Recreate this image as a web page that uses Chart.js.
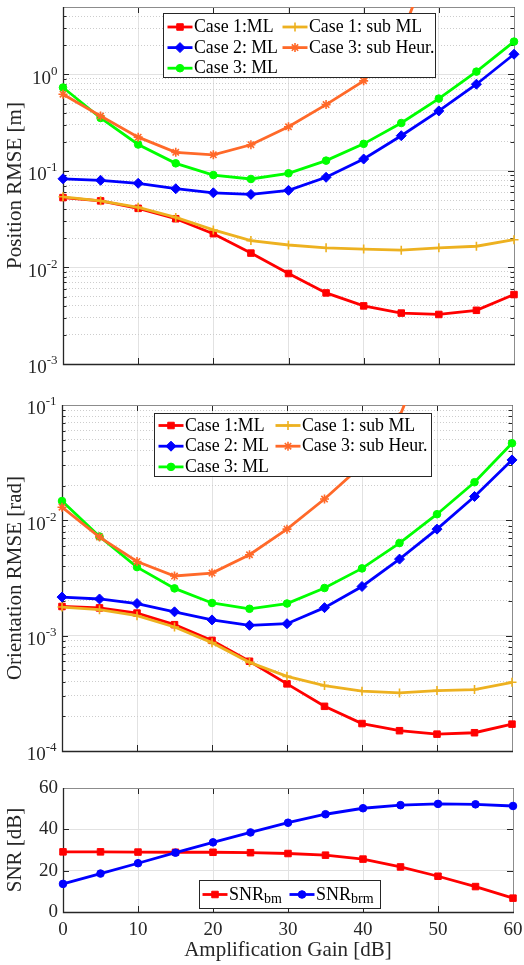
<!DOCTYPE html>
<html>
<head>
<meta charset="utf-8">
<script src="https://cdn.jsdelivr.net/npm/chart.js@4.4.1/dist/chart.umd.min.js"></script>
<style>
  html, body { margin: 0; padding: 0; background: #fff; }
  #page { position: relative; width: 524px; height: 965px; overflow: hidden; }
  .panel { position: absolute; left: 0; width: 524px; }
</style>
</head>
<body>
<div id="page">
  <div class="panel" style="top:0;height:390px"><canvas id="posChart" width="524" height="390"></canvas></div>
  <div class="panel" style="top:390px;height:380px"><canvas id="oriChart" width="524" height="380"></canvas></div>
  <div class="panel" style="top:765px;height:200px"><canvas id="snrChart" width="524" height="200"></canvas></div>
</div>
<script>
// amplification gain sweep [dB]
const gainDb = [0, 5, 10, 15, 20, 25, 30, 35, 40, 45, 50, 55, 60];

// position RMSE [m]
const posCase1ML   = [0.053, 0.049, 0.041, 0.032, 0.0224, 0.0141, 0.00866, 0.00545, 0.0040, 0.00337, 0.00326, 0.0036, 0.00524];
const posCase2ML   = [0.083, 0.080, 0.0745, 0.0655, 0.0594, 0.0572, 0.063, 0.086, 0.133, 0.232, 0.419, 0.792, 1.62];
const posCase3ML   = [0.732, 0.354, 0.188, 0.120, 0.0908, 0.0826, 0.0946, 0.128, 0.191, 0.314, 0.562, 1.07, 2.19];
const posCase1Sub  = [0.054, 0.049, 0.042, 0.033, 0.0245, 0.019, 0.0171, 0.016, 0.0155, 0.0151, 0.016, 0.0166, 0.0194];
const posCase3Heur = [0.624, 0.371, 0.224, 0.156, 0.147, 0.187, 0.287, 0.487, 0.859, 2.5, 25, 100, 400];

// orientation RMSE [rad]
const oriCase1ML   = [1.79e-3, 1.74e-3, 1.57e-3, 1.245e-3, 9.1e-4, 6.0e-4, 3.82e-4, 2.44e-4, 1.73e-4, 1.50e-4, 1.40e-4, 1.44e-4, 1.71e-4];
const oriCase2ML   = [2.16e-3, 2.08e-3, 1.90e-3, 1.61e-3, 1.37e-3, 1.23e-3, 1.27e-3, 1.75e-3, 2.67e-3, 4.61e-3, 8.39e-3, 1.61e-2, 3.34e-2];
const oriCase3ML   = [1.47e-2, 7.24e-3, 3.93e-3, 2.57e-3, 1.92e-3, 1.71e-3, 1.90e-3, 2.59e-3, 3.83e-3, 6.35e-3, 1.13e-2, 2.14e-2, 4.66e-2];
const oriCase1Sub  = [1.77e-3, 1.68e-3, 1.49e-3, 1.19e-3, 8.7e-4, 5.87e-4, 4.44e-4, 3.69e-4, 3.30e-4, 3.19e-4, 3.34e-4, 3.41e-4, 3.94e-4];
const oriCase3Heur = [1.30e-2, 7.16e-3, 4.40e-3, 3.29e-3, 3.49e-3, 5.03e-3, 8.39e-3, 1.53e-2, 3.0e-2, 7.9e-2, 0.5, 3, 15];

// SNR [dB]
const snrBm  = [29.1, 29.1, 29.0, 28.9, 28.9, 28.7, 28.3, 27.5, 25.6, 21.8, 17.3, 12.3, 6.7];
const snrBrm = [13.6, 18.6, 23.6, 28.7, 33.7, 38.5, 43.2, 47.3, 50.2, 51.7, 52.3, 52.1, 51.3];

const gainTicks = [0, 10, 20, 30, 40, 50, 60];
const snrTicks = [0, 20, 40, 60];

const FONT = '"Liberation Serif", "DejaVu Serif", "Times New Roman", serif';
const INK = '#262626';
Chart.defaults.font.family = FONT;
Chart.defaults.color = INK;

function isDecade(v) {
  if (!(v > 0)) return false;
  const l = Math.log10(v);
  return Math.abs(l - Math.round(l)) < 1e-9;
}

// 1..9 x 10^n ticks inside [min, max]
function logTicks(min, max) {
  const out = [];
  for (let e = Math.floor(Math.log10(min)); e <= Math.ceil(Math.log10(max)); e++) {
    for (let m = 1; m <= 9; m++) {
      const v = parseFloat((m * Math.pow(10, e)).toPrecision(6));
      if (v >= min * 0.999999 && v <= max * 1.000001) out.push({ value: v });
    }
  }
  return out;
}

function series(label, data, color, style, radius, order) {
  const line = style === 'cross' || style === 'star';
  return {
    label, data: data.map((v, i) => ({ x: gainDb[i], y: v })),
    borderColor: color, backgroundColor: color,
    borderWidth: 2.8,
    pointStyle: style, pointRadius: radius, pointHoverRadius: radius,
    pointBackgroundColor: color, pointBorderColor: color,
    pointBorderWidth: line ? 1.6 : 1,
    tension: 0, order
  };
}

function rmseSets(c1, c2, c3, c1s, c3h) {
  return [
    series('Case 1:ML', c1, '#ff0000', 'rect', 4.6, 0),
    series('Case 2: ML', c2, '#0000ff', 'rectRot', 5, -1),
    series('Case 3: ML', c3, '#00ff00', 'circle', 3.8, -2),
    series('Case 1: sub ML', c1s, '#edb120', 'cross', 4.5, -3),
    series('Case 3: sub Heur.', c3h, '#ff6929', 'star', 4.5, -4)
  ];
}

function gainAxis(showLabels, height) {
  return {
    type: 'linear', min: 0, max: 60,
    afterBuildTicks: s => { s.ticks = gainTicks.map(v => ({ value: v })); },
    ticks: { display: showLabels, autoSkip: false, maxRotation: 0, padding: 7, color: INK, font: { size: 19 } },
    grid: { color: '#e2e2e2', lineWidth: 1, drawTicks: false },
    border: { display: false },
    title: showLabels
      ? { display: true, text: 'Amplification Gain [dB]', color: INK, font: { size: 21 }, padding: { top: 0, bottom: 2 } }
      : { display: false },
    afterFit: s => { s.height = height; s.paddingLeft = 0; s.paddingRight = 0; }
  };
}

// decade labels (10 with raised exponent) are drawn by axesFrame
function rmseAxis(min, max, title, width) {
  return {
    type: 'logarithmic', min, max,
    afterBuildTicks: s => { s.ticks = logTicks(min, max); },
    ticks: { display: false, autoSkip: false },
    grid: {
      drawTicks: false, lineWidth: 1,
      color: c => (c.tick && isDecade(c.tick.value)) ? '#e2e2e2' : '#cdcdcd'
    },
    border: { display: false, dash: c => (c.tick && !isDecade(c.tick.value)) ? [1, 2] : [] },
    title: { display: true, text: title, color: INK, font: { size: 21 }, padding: { top: 3, bottom: 0 } },
    afterFit: s => { s.width = width; s.paddingTop = 0; s.paddingBottom = 0; }
  };
}

// box, inward tick marks and power-of-ten labels, MATLAB style
const axesFrame = {
  id: 'axesFrame',
  beforeDatasetsDraw(chart) {
    const { ctx, chartArea: a, scales: { x, y } } = chart;
    ctx.save();
    ctx.lineWidth = 1;
    ctx.strokeStyle = INK;
    ctx.beginPath();
    x.ticks.forEach(t => {
      const px = Math.round(x.getPixelForValue(t.value)) + 0.5;
      ctx.moveTo(px, a.bottom); ctx.lineTo(px, a.bottom - 6);
      ctx.moveTo(px, a.top); ctx.lineTo(px, a.top + 6);
    });
    y.ticks.forEach(t => {
      const len = (y.type === 'logarithmic' && !isDecade(t.value)) ? 3.5 : 6;
      const py = Math.round(y.getPixelForValue(t.value)) + 0.5;
      ctx.moveTo(a.left, py); ctx.lineTo(a.left + len, py);
      ctx.moveTo(a.right, py); ctx.lineTo(a.right - len, py);
    });
    ctx.stroke();
    ctx.strokeStyle = '#8c8c8c';
    ctx.beginPath();
    ctx.moveTo(a.left, a.top + 0.5); ctx.lineTo(a.right + 0.5, a.top + 0.5); ctx.lineTo(a.right + 0.5, a.bottom);
    ctx.stroke();
    ctx.strokeStyle = INK;
    ctx.lineWidth = 1.3;
    ctx.beginPath();
    ctx.moveTo(a.left + 0.5, a.top); ctx.lineTo(a.left + 0.5, a.bottom + 0.5); ctx.lineTo(a.right + 1, a.bottom + 0.5);
    ctx.stroke();
    ctx.restore();
  },
  afterDraw(chart) {
    const { ctx, chartArea: a, scales: { y } } = chart;
    if (y.type !== 'logarithmic') return;
    ctx.save();
    ctx.fillStyle = INK;
    ctx.textBaseline = 'middle';
    ctx.textAlign = 'right';
    y.ticks.filter(t => isDecade(t.value)).forEach(t => {
      const py = y.getPixelForValue(t.value);
      const exp = String(Math.round(Math.log10(t.value)));
      const right = a.left - 5.5;
      ctx.font = '13px ' + FONT;
      const ew = ctx.measureText(exp).width;
      ctx.fillText(exp, right, py - 3);
      ctx.font = '19px ' + FONT;
      ctx.fillText('10', right - ew, py + 4.5);
    });
    ctx.restore();
  }
};

// legend box drawn inside the plot area
const inlineLegend = {
  id: 'inlineLegend',
  afterDraw(chart, args, o) {
    if (!o.box) return;
    const { ctx, chartArea: a } = chart;
    const bx = Math.round(a.left + o.box.x) + 0.5, by = Math.round(a.top + o.box.y) + 0.5;
    ctx.save();
    ctx.fillStyle = '#fff';
    ctx.fillRect(bx, by, o.box.w, o.box.h);
    ctx.strokeStyle = INK;
    ctx.lineWidth = 1;
    ctx.strokeRect(bx, by, o.box.w, o.box.h);
    chart.data.datasets.forEach((ds, i) => {
      const col = Math.floor(i / o.rows), row = i % o.rows;
      const lx = bx + o.colX[col], ly = by + o.rowY + row * o.rowH;
      ctx.strokeStyle = ds.borderColor;
      ctx.lineWidth = ds.borderWidth;
      ctx.beginPath(); ctx.moveTo(lx, ly); ctx.lineTo(lx + o.sample, ly); ctx.stroke();
      ctx.fillStyle = ds.pointBackgroundColor;
      ctx.strokeStyle = ds.pointBorderColor;
      ctx.lineWidth = ds.pointBorderWidth;
      Chart.helpers.drawPoint(ctx, { pointStyle: ds.pointStyle, radius: ds.pointRadius, rotation: 0, borderWidth: ds.pointBorderWidth }, lx + o.sample / 2, ly);
      const [main, sub] = ds.label.split('_');
      let tx = lx + o.sample + 1.5;
      ctx.fillStyle = '#000';
      ctx.textBaseline = 'middle';
      ctx.textAlign = 'left';
      ctx.font = o.fontSize + 'px ' + FONT;
      ctx.fillText(main, tx, ly + 0.5);
      if (sub) {
        tx += ctx.measureText(main).width;
        ctx.font = Math.round(o.fontSize * 0.75) + 'px ' + FONT;
        ctx.fillText(sub, tx, ly + 5);
      }
    });
    ctx.restore();
  }
};

function baseOptions(padding, scales, legend, clip) {
  return {
    responsive: false, animation: false, devicePixelRatio: 1,
    layout: { padding },
    scales,
    plugins: { legend: { display: false }, tooltip: { enabled: false }, inlineLegend: legend },
    datasets: { line: { clip } },
    events: []
  };
}

new Chart(document.getElementById('posChart'), {
  type: 'line',
  data: { datasets: rmseSets(posCase1ML, posCase2ML, posCase3ML, posCase1Sub, posCase3Heur) },
  options: baseOptions({ left: 0, right: 10, top: 7, bottom: 0 }, {
    x: gainAxis(false, 26),
    y: rmseAxis(1e-3, 5, 'Position RMSE [m]', 63)
  }, { box: { x: 100, y: 6, w: 272, h: 64 }, rows: 3, colX: [4, 119], rowY: 13.5, rowH: 20.6, sample: 25, fontSize: 17.8 },
  { left: 8, right: 8, top: 0, bottom: 0 }),
  plugins: [axesFrame, inlineLegend]
});

new Chart(document.getElementById('oriChart'), {
  type: 'line',
  data: { datasets: rmseSets(oriCase1ML, oriCase2ML, oriCase3ML, oriCase1Sub, oriCase3Heur) },
  options: baseOptions({ left: 0, right: 12, top: 15, bottom: 0 }, {
    x: gainAxis(false, 19),
    y: rmseAxis(1e-4, 1e-1, 'Orientation RMSE [rad]', 62)
  }, { box: { x: 92, y: 8, w: 277, h: 63 }, rows: 3, colX: [4, 121], rowY: 12, rowH: 20.7, sample: 25, fontSize: 17.8 },
  { left: 8, right: 8, top: 0, bottom: 0 }),
  plugins: [axesFrame, inlineLegend]
});

new Chart(document.getElementById('snrChart'), {
  type: 'line',
  data: {
    datasets: [
      series('SNR_bm', snrBm, '#ff0000', 'rect', 4.6, 0),
      series('SNR_brm', snrBrm, '#0000ff', 'circle', 3.8, -1)
    ]
  },
  options: baseOptions({ left: 0, right: 11, top: 23, bottom: 0 }, {
    x: gainAxis(true, 53),
    y: {
      type: 'linear', min: 0, max: 60,
      afterBuildTicks: s => { s.ticks = snrTicks.map(v => ({ value: v })); },
      ticks: { padding: 5, color: INK, font: { size: 19 } },
      grid: { color: '#e2e2e2', lineWidth: 1, drawTicks: false },
      border: { display: false },
      title: { display: true, text: 'SNR [dB]', color: INK, font: { size: 21 }, padding: { top: 3, bottom: 0 } },
      afterFit: s => { s.width = 63; s.paddingTop = 0; s.paddingBottom = 0; }
    }
  }, { box: { x: 136, y: 92, w: 181, h: 28 }, rows: 1, colX: [3, 90], rowY: 14, rowH: 0, sample: 25, fontSize: 18 },
  { left: 8, right: 8, top: 8, bottom: 8 }),
  plugins: [axesFrame, inlineLegend]
});
</script>
</body>
</html>
